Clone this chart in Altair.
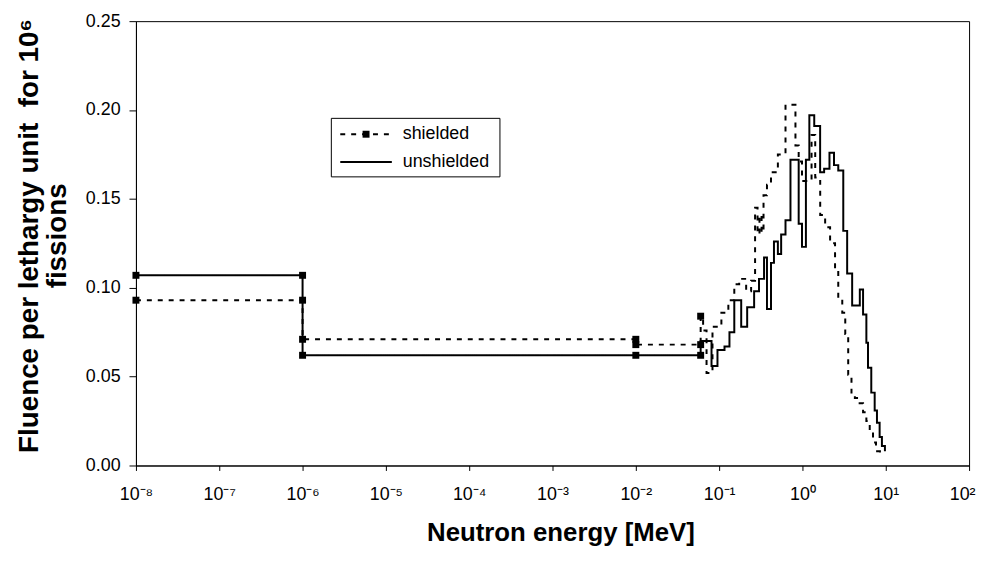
import altair as alt
import pandas as pd

# ---- data (energy in MeV, fluence per lethargy unit) ----
shielded_E = [1e-8, 1e-6, 0.01, 0.060, 0.0642, 0.0706, 0.0832, 0.1064, 0.129, 0.152,
              0.174, 0.211, 0.242, 0.270, 0.289, 0.305, 0.323, 0.341, 0.375, 0.419,
              0.507, 0.626, 0.824, 0.901, 0.987, 1.286, 1.423, 1.633, 1.872, 2.147,
              2.462, 2.69, 3.005, 3.264, 3.541, 3.877, 4.257, 4.66, 5.34, 5.85,
              6.42, 7.03, 7.63, 8.51]
shielded_v = [0.093, 0.071, 0.068, 0.084, 0.076, 0.052, 0.078, 0.086, 0.093, 0.102,
              0.105, 0.098, 0.104, 0.145, 0.130, 0.141, 0.131, 0.152, 0.158, 0.165,
              0.175, 0.203, 0.180, 0.171, 0.160, 0.186, 0.162, 0.141, 0.134, 0.125,
              0.110, 0.094, 0.086, 0.074, 0.051, 0.040, 0.038, 0.035, 0.030, 0.025,
              0.019, 0.013, 0.008, 0.006]

unshielded_E = [1e-8, 1e-6, 0.060, 0.081, 0.0955, 0.116, 0.133, 0.152, 0.184, 0.217,
                0.263, 0.301, 0.346, 0.375, 0.419, 0.455, 0.507, 0.555, 0.626, 0.718,
                0.901, 0.987, 1.10, 1.21, 1.385, 1.63, 1.82, 2.11, 2.39, 2.69,
                3.09, 3.44, 3.95, 4.88, 5.34, 5.85, 6.12, 6.70, 7.36, 7.84,
                8.44, 8.99, 9.77]
unshielded_v = [0.107, 0.062, 0.070, 0.056, 0.065, 0.067, 0.075, 0.093, 0.078, 0.089,
                0.098, 0.105, 0.117, 0.088, 0.114, 0.126, 0.119, 0.130, 0.138, 0.172,
                0.136, 0.123, 0.172, 0.197, 0.191, 0.165, 0.167, 0.176, 0.169, 0.166,
                0.132, 0.108, 0.090, 0.099, 0.085, 0.069, 0.055, 0.041, 0.031, 0.024,
                0.016, 0.011, 0.008]

shielded_marker_E = [1e-8, 1e-6, 1e-6, 1e-2, 1e-2, 0.060, 0.060]
shielded_marker_v = [0.093, 0.093, 0.071, 0.071, 0.068, 0.068, 0.084]
unshielded_marker_E = [1e-8, 1e-6, 1e-6, 1e-2, 0.060]
unshielded_marker_v = [0.107, 0.107, 0.062, 0.062, 0.062]

series_names = ["shielded", "unshielded"]
x_tick_values = [1e-8, 1e-7, 1e-6, 1e-5, 1e-4, 1e-3, 1e-2, 1e-1, 1e0, 1e1, 1e2]
x_tick_labels = ["10⁻⁸", "10⁻⁷", "10⁻⁶", "10⁻⁵", "10⁻⁴", "10⁻³", "10⁻²",
                 "10⁻¹", "10⁰", "10¹", "10²"]
y_tick_values = [0.0, 0.05, 0.10, 0.15, 0.20, 0.25]

# ---- tables ----
lines_df = pd.concat([
    pd.DataFrame({"E": shielded_E, "v": shielded_v, "series": series_names[0]}),
    pd.DataFrame({"E": unshielded_E, "v": unshielded_v, "series": series_names[1]}),
], ignore_index=True)
markers_df = pd.concat([
    pd.DataFrame({"E": shielded_marker_E, "v": shielded_marker_v, "series": series_names[0]}),
    pd.DataFrame({"E": unshielded_marker_E, "v": unshielded_marker_v, "series": series_names[1]}),
], ignore_index=True)
one_row = pd.DataFrame({"k": [0]})

label_expr = ""
for val, lab in zip(x_tick_values, x_tick_labels):
    label_expr += f"datum.value < {val * 1.5} ? '{lab}' : "
label_expr += "''"

FONT = "Liberation Sans"
DASH = [5, 6]
W, H = 840, 448

x_scale = alt.Scale(type="log", domain=[1e-8, 1e2])
y_scale = alt.Scale(domain=[0, 0.25])

x_enc = alt.X(
    "E:Q",
    scale=x_scale,
    axis=alt.Axis(
        values=x_tick_values, labelExpr=label_expr, grid=False,
        title="Neutron energy [MeV]", titleFontSize=26, titleFont=FONT,
        titleFontWeight="bold", titleColor="black", titleX=428, titleY=68,
        titleBaseline="middle", titleAlign="center",
        labelFont=FONT, labelFontSize=18, labelColor="black", labelPadding=15,
        labelOffset={"condition": {"test": "datum.value > 50", "value": -7}, "value": 0},
        tickSize=5, tickColor="black", domainColor="black", labelFlush=False,
    ),
)
y_enc = alt.Y(
    "v:Q",
    scale=y_scale,
    axis=alt.Axis(
        values=y_tick_values, format=".2f", grid=False,
        title=["Fluence per lethargy unit\u00a0\u00a0for 10⁶", "fissions"],
        titleFontSize=28, titleFont=FONT, titleFontWeight="bold", titleColor="black",
        titleAngle=270, titleX=-107, titleY=216, titleBaseline="middle",
        titleAlign="center", titleLineHeight=28,
        labelFont=FONT, labelFontSize=18, labelColor="black", labelPadding=9,
        tickSize=7, tickColor="black", domainColor="black",
    ),
)

dash_scale = alt.Scale(domain=series_names, range=[DASH, [1, 0]])

lines = alt.Chart(lines_df).mark_line(
    interpolate="step-after", color="black", strokeWidth=2
).encode(
    x=x_enc,
    y=y_enc,
    strokeDash=alt.StrokeDash("series:N", scale=dash_scale, legend=None),
)

markers = alt.Chart(markers_df).mark_square(size=49, color="black", opacity=1).encode(
    x=alt.X("E:Q", scale=x_scale),
    y=alt.Y("v:Q", scale=y_scale),
    detail="series:N",
)

# ---- hand-drawn legend box (pixel positions inside the plot area) ----
leg_box = alt.Chart(one_row).mark_rect(fill="white", stroke="black", strokeWidth=1).encode(
    x=alt.value(197), x2=alt.value(367), y=alt.value(98), y2=alt.value(157)
)
leg_line1 = alt.Chart(one_row).mark_rule(color="black", strokeWidth=2, strokeDash=DASH).encode(
    x=alt.value(206), x2=alt.value(258), y=alt.value(114)
)
leg_mark1 = alt.Chart(one_row).mark_square(size=49, color="black", opacity=1).encode(
    x=alt.value(232), y=alt.value(114)
)
leg_line2 = alt.Chart(one_row).mark_rule(color="black", strokeWidth=2).encode(
    x=alt.value(206), x2=alt.value(258), y=alt.value(142)
)
leg_text1 = alt.Chart(one_row).mark_text(
    align="left", baseline="middle", font=FONT, fontSize=18, color="black"
).encode(x=alt.value(269), y=alt.value(114), text=alt.value(series_names[0]))
leg_text2 = alt.Chart(one_row).mark_text(
    align="left", baseline="middle", font=FONT, fontSize=18, color="black"
).encode(x=alt.value(269), y=alt.value(142), text=alt.value(series_names[1]))

chart = alt.layer(
    lines, markers, leg_box, leg_line1, leg_mark1, leg_line2, leg_text1, leg_text2
).properties(
    width=W, height=H,
    autosize=alt.AutoSizeParams(type="none"),
    padding={"left": 129, "top": 11, "right": 10, "bottom": 90},
    background="white",
).configure_view(stroke="black", strokeWidth=1)

chart.save("out.html", embed_options={"renderer": "svg", "actions": False})
